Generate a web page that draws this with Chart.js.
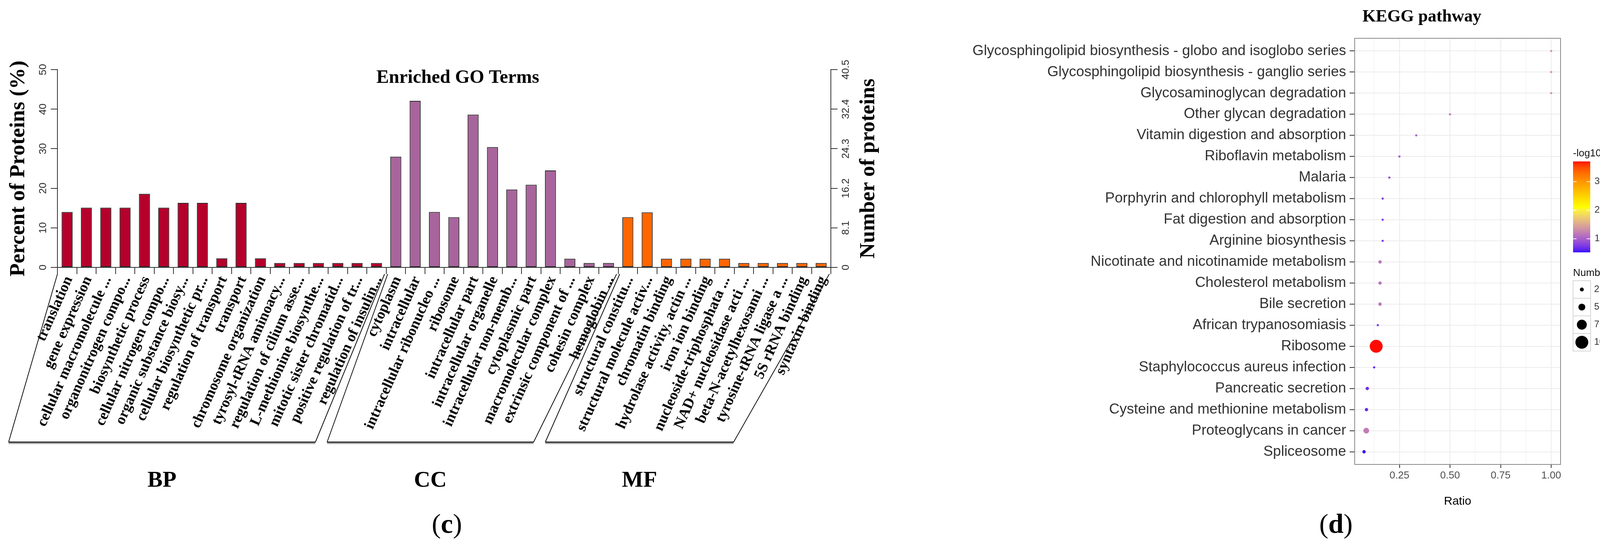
<!DOCTYPE html>
<html>
<head>
<meta charset="utf-8">
<script src="https://cdn.jsdelivr.net/npm/chart.js@4.4.0/dist/chart.umd.min.js"></script>
<style>
html, body { margin: 0; padding: 0; background: #fff; }
#wrap { position: relative; width: 4373px; height: 1412px; overflow: hidden; background: #fff; }
canvas { position: absolute; left: 0; top: 0; }
.panel-tag { position: absolute; font-family: "Liberation Serif", serif; font-size: 70px; color: #000;
             transform: translate(-50%, -50%); line-height: 1; }
</style>
</head>
<body>
<div id="wrap">
  <canvas id="goChart" width="4373" height="1412"></canvas>
  <canvas id="keggChart" width="4373" height="1412"></canvas>
  <div class="panel-tag" style="left:1144px;top:1340px">(<b>c</b>)</div>
  <div class="panel-tag" style="left:3420px;top:1340px">(<b>d</b>)</div>
</div>
<script>
// ========== 1. DATA ==========

// --- panel (c): enriched GO terms ---
const bpTerms = ['translation', 'gene expression', 'cellular macromolecule ...', 'organonitrogen compo...',
    'biosynthetic process', 'cellular nitrogen compo...', 'organic substance biosy...', 'cellular biosynthetic pr...',
    'regulation of transport', 'transport', 'chromosome organization', 'tyrosyl-tRNA aminoacy...',
    'regulation of cilium asse...', 'L-methionine biosynthe...', 'mitotic sister chromatid...',
    'positive regulation of tr...', 'regulation of insulin...'];
const bpPercent = [14.0, 15.1, 15.1, 15.1, 18.6, 15.1, 16.3, 16.3, 2.3, 16.3, 2.3, 1.1, 1.1, 1.1, 1.1, 1.1, 1.1];

const ccTerms = ['cytoplasm', 'intracellular', 'intracellular ribonucleo ...', 'ribosome', 'intracellular part',
    'intracellular organelle', 'intracellular non-memb...', 'cytoplasmic part', 'macromolecular complex',
    'extrinsic component of ...', 'cohesin complex', 'hemoglobin ...'];
const ccPercent = [28.0, 42.1, 14.0, 12.7, 38.6, 30.4, 19.7, 20.9, 24.5, 2.2, 1.1, 1.1];

const mfTerms = ['structural constitu...', 'structural molecule activ...', 'chromatin binding',
    'hydrolase activity, actin ...', 'iron ion binding', 'nucleoside-triphosphata ...', 'NAD+ nucleosidase acti ...',
    'beta-N-acetylhexosami ...', 'tyrosine-tRNA ligase a ...', '5S rRNA binding', 'syntaxin binding'];
const mfPercent = [12.7, 13.9, 2.2, 2.2, 2.2, 2.2, 1.1, 1.1, 1.1, 1.1, 1.1];

const groupNames = ['BP', 'CC', 'MF'];
const groupColors = ['#B4002A', '#A8649C', '#FF6600'];
const percentTicks = [0, 10, 20, 30, 40, 50];
const proteinTicks = [0, 8.1, 16.2, 24.3, 32.4, 40.5];
const proteinTickLabels = ['0', '8.1', '16.2', '24.3', '32.4', '40.5'];

// --- panel (d): KEGG pathway bubbles (top to bottom) ---
const pathways = ['Glycosphingolipid biosynthesis - globo and isoglobo series',
    'Glycosphingolipid biosynthesis - ganglio series', 'Glycosaminoglycan degradation', 'Other glycan degradation',
    'Vitamin digestion and absorption', 'Riboflavin metabolism', 'Malaria', 'Porphyrin and chlorophyll metabolism',
    'Fat digestion and absorption', 'Arginine biosynthesis', 'Nicotinate and nicotinamide metabolism',
    'Cholesterol metabolism', 'Bile secretion', 'African trypanosomiasis', 'Ribosome',
    'Staphylococcus aureus infection', 'Pancreatic secretion', 'Cysteine and methionine metabolism',
    'Proteoglycans in cancer', 'Spliceosome'];
const ratios   = [1.0, 1.0, 1.0, 0.5, 0.333, 0.25, 0.2, 0.167, 0.167, 0.167, 0.154, 0.154, 0.154, 0.143, 0.135,
    0.125, 0.091, 0.087, 0.086, 0.075];
const counts   = [1, 1, 1, 1, 1, 1, 1, 1, 1, 1, 2, 2, 2, 1, 10, 1, 2, 2, 4, 2];
const negLogP  = [1.4, 1.4, 1.4, 1.2, 1.05, 0.95, 0.85, 0.75, 0.75, 0.75, 1.15, 1.15, 1.15, 0.7, 3.7,
    0.62, 0.68, 0.66, 1.2, 0.56];

const ratioMajorTicks = [0.25, 0.5, 0.75, 1.0];
const ratioTickLabels = ['0.25', '0.50', '0.75', '1.00'];
const ratioMinorTicks = [0.125, 0.375, 0.625, 0.875];
const pvalLimits = [0.53, 3.71];
const pvalMid = 2.1;
const colorbarTicks = [1, 2, 3];
const countLimits = [1, 10];
const sizeBreaks = [2.5, 5.0, 7.5, 10.0];
const sizeBreakLabels = ['2.5', '5.0', '7.5', '10.0'];

// ========== 2. HELPERS ==========

const SERIF = '"Liberation Serif", "Times New Roman", serif';
const SANS = '"Liberation Sans", Arial, sans-serif';

function hexToRgb(h) {
    const n = parseInt(h.slice(1), 16);
    return [(n >> 16) & 255, (n >> 8) & 255, n & 255];
}
function toLinear(c) { c /= 255; return c <= 0.04045 ? c / 12.92 : Math.pow((c + 0.055) / 1.055, 2.4); }
function fromLinear(c) {
    const v = c <= 0.0031308 ? 12.92 * c : 1.055 * Math.pow(c, 1 / 2.4) - 0.055;
    return Math.round(Math.max(0, Math.min(1, v)) * 255);
}
function rgbToLab(rgb) {
    const [r, g, b] = rgb.map(toLinear);
    const X = (0.4124 * r + 0.3576 * g + 0.1805 * b) / 0.95047;
    const Y = (0.2126 * r + 0.7152 * g + 0.0722 * b);
    const Z = (0.0193 * r + 0.1192 * g + 0.9505 * b) / 1.08883;
    const f = t => t > 0.008856 ? Math.cbrt(t) : 7.787 * t + 16 / 116;
    const fx = f(X), fy = f(Y), fz = f(Z);
    return [116 * fy - 16, 500 * (fx - fy), 200 * (fy - fz)];
}
function labToRgb(lab) {
    const fy = (lab[0] + 16) / 116, fx = fy + lab[1] / 500, fz = fy - lab[2] / 200;
    const inv = t => (t * t * t > 0.008856) ? t * t * t : (t - 16 / 116) / 7.787;
    const X = inv(fx) * 0.95047, Y = inv(fy), Z = inv(fz) * 1.08883;
    return [
        fromLinear(3.2406 * X - 1.5372 * Y - 0.4986 * Z),
        fromLinear(-0.9689 * X + 1.8758 * Y + 0.0415 * Z),
        fromLinear(0.0557 * X - 0.2040 * Y + 1.0570 * Z)
    ];
}
const labStops = ['#0000FF', '#FFFF00', '#FF0000'].map(c => rgbToLab(hexToRgb(c)));

// diverging blue - yellow - red gradient, interpolated in Lab
function colorFor(v) {
    const dev = Math.max(pvalMid - pvalLimits[0], pvalLimits[1] - pvalMid);
    let t = 0.5 + (v - pvalMid) / (2 * dev);
    t = Math.max(0, Math.min(1, t));
    const seg = t < 0.5 ? 0 : 1;
    const f = t < 0.5 ? t * 2 : (t - 0.5) * 2;
    const a = labStops[seg], b = labStops[seg + 1];
    const rgb = labToRgb([0, 1, 2].map(k => a[k] + (b[k] - a[k]) * f));
    return 'rgb(' + rgb.join(',') + ')';
}

// radius grows linearly with the count (1 -> 1 unit, 10 -> 6 units)
const RADIUS_UNIT = 2.75;
function radiusFor(n) {
    return RADIUS_UNIT * (1 + 5 * (n - countLimits[0]) / (countLimits[1] - countLimits[0]));
}

function rotatedText(ctx, text, x, y, angle) {
    ctx.save();
    ctx.translate(x, y);
    ctx.rotate(angle);
    ctx.fillText(text, 0, 0);
    ctx.restore();
}

// ========== 3. PANEL (c) BAR CHART ==========

const goTerms = bpTerms.concat(ccTerms, mfTerms);
const goPercent = bpPercent.concat(ccPercent, mfPercent);
const groupSizes = [bpTerms.length, ccTerms.length, mfTerms.length];
const goColors = [];
groupSizes.forEach((n, gi) => { for (let i = 0; i < n; i++) goColors.push(groupColors[gi]); });

const LABEL_ANGLE = 66 * Math.PI / 180;
// bottom edge of the bracket row (left and right ends) and its height
const BRACKET_BOTTOM = {left: 22, right: 1884, y: 1131};

const goDecor = {
    id: 'goDecor',
    afterDraw(chart) {
        const {ctx, chartArea: area, scales} = chart;
        const xs = scales.x, ys = scales.y, ys2 = scales.y2;
        const midY = (area.top + area.bottom) / 2;
        ctx.save();
        ctx.fillStyle = '#000';
        ctx.textAlign = 'center';
        ctx.textBaseline = 'middle';

        ctx.font = 'bold 48px ' + SERIF;
        ctx.fillText('Enriched GO Terms', 1172, 200);

        ctx.font = 'bold 55px ' + SERIF;
        rotatedText(ctx, 'Percent of Proteins (%)', 48, midY, -Math.PI / 2);
        rotatedText(ctx, 'Number of proteins', 2224, midY, -Math.PI / 2);

        // tick labels parallel to the axes
        ctx.fillStyle = '#2b2b2b';
        ctx.font = '26px ' + SANS;
        percentTicks.forEach(v => rotatedText(ctx, String(v), area.left - 36, ys.getPixelForValue(v), -Math.PI / 2));
        proteinTicks.forEach((v, i) => rotatedText(ctx, proteinTickLabels[i], area.right + 39,
            ys2.getPixelForValue(v), -Math.PI / 2));

        // slanted category labels
        ctx.fillStyle = '#000';
        ctx.font = 'bold 38px ' + SERIF;
        ctx.textAlign = 'right';
        goTerms.forEach((t, i) => {
            rotatedText(ctx, t, xs.getPixelForValue(i) + 5, area.bottom + 25, -LABEL_ANGLE);
        });

        // group brackets: top corners on the axis ticks, bottom corners on the bracket row
        const slot = (area.right - area.left) / goTerms.length;
        const topY = area.bottom + 17, botY = BRACKET_BOTTOM.y;
        const squeeze = (BRACKET_BOTTOM.right - BRACKET_BOTTOM.left) / (area.right - area.left);
        const bottomOf = px => BRACKET_BOTTOM.left + (px - area.left) * squeeze;
        let start = 0;
        groupSizes.forEach((n, gi) => {
            const end = start + n;
            const tl = area.left + start * slot + (gi === 0 ? 0 : 4);
            const tr = area.left + end * slot - 4;
            const bl = bottomOf(area.left + start * slot) + (gi === 0 ? 0 : 24);
            const br = bottomOf(area.left + end * slot) - 6;
            ctx.strokeStyle = '#111';
            ctx.lineWidth = 2;
            ctx.beginPath();
            ctx.moveTo(tl, topY);
            ctx.lineTo(bl, botY);
            ctx.moveTo(br, botY);
            ctx.lineTo(tr, topY);
            ctx.stroke();
            // bottom edge with a soft shadow
            ctx.strokeStyle = '#b0b0b0';
            ctx.lineWidth = 4;
            ctx.beginPath();
            ctx.moveTo(bl, botY + 3);
            ctx.lineTo(br, botY + 3);
            ctx.stroke();
            ctx.strokeStyle = '#222';
            ctx.lineWidth = 3;
            ctx.beginPath();
            ctx.moveTo(bl, botY);
            ctx.lineTo(br, botY);
            ctx.stroke();

            ctx.fillStyle = '#000';
            ctx.font = 'bold 58px ' + SERIF;
            ctx.textAlign = 'center';
            ctx.fillText(groupNames[gi], (bl + br) / 2, 1230);
            start = end;
        });
        ctx.restore();
    }
};

new Chart(document.getElementById('goChart'), {
    type: 'bar',
    data: {
        labels: goTerms,
        datasets: [{
            data: goPercent,
            backgroundColor: goColors,
            borderColor: '#2a2a2a',
            borderWidth: 2,
            borderSkipped: false,
            barPercentage: 0.57,
            categoryPercentage: 1.0
        }]
    },
    options: {
        responsive: false,
        animation: false,
        devicePixelRatio: 1,
        events: [],
        layout: {padding: {left: 0, top: 178, right: 4373 - 2266, bottom: 0}},
        plugins: {legend: {display: false}, tooltip: {enabled: false}},
        scales: {
            x: {
                type: 'category',
                grid: {display: true, offset: true, drawOnChartArea: false, drawTicks: true,
                    tickLength: 17, color: '#333', lineWidth: 2},
                border: {display: true, color: '#333', width: 2},
                ticks: {display: false},
                afterFit(scale) { scale.height = 1412 - 684; }
            },
            y: {
                position: 'left',
                min: 0, max: 50,
                afterBuildTicks(scale) { scale.ticks = percentTicks.map(v => ({value: v})); },
                grid: {drawOnChartArea: false, drawTicks: true, tickLength: 17, color: '#333', lineWidth: 2},
                border: {display: true, color: '#333', width: 2},
                ticks: {display: false},
                afterFit(scale) { scale.width = 147; }
            },
            y2: {
                position: 'right',
                min: 0, max: 40.5,
                afterBuildTicks(scale) { scale.ticks = proteinTicks.map(v => ({value: v})); },
                grid: {drawOnChartArea: false, drawTicks: true, tickLength: 17, color: '#333', lineWidth: 2},
                border: {display: true, color: '#333', width: 2},
                ticks: {display: false},
                afterFit(scale) { scale.width = 139; }
            }
        }
    },
    plugins: [goDecor]
});

// ========== 4. PANEL (d) BUBBLE CHART ==========

const ratioMin = Math.min(...ratios), ratioMax = Math.max(...ratios);
const ratioPad = 0.05 * (ratioMax - ratioMin);

const keggDecor = {
    id: 'keggDecor',
    afterDraw(chart) {
        const {ctx, chartArea: area} = chart;
        ctx.save();
        // panel border
        ctx.strokeStyle = '#8a8a8a';
        ctx.lineWidth = 2;
        ctx.strokeRect(area.left, area.top, area.right - area.left, area.bottom - area.top);

        ctx.fillStyle = '#000';
        ctx.textAlign = 'center';
        ctx.textBaseline = 'middle';
        ctx.font = 'bold 44px ' + SERIF;
        ctx.fillText('KEGG pathway', 3640, 44);

        ctx.font = '30px ' + SANS;
        ctx.fillText('Ratio', (area.left + area.right) / 2, 1283);

        // colour bar legend
        const cb = {x: area.right + 32, y: 413, w: 44, h: 232};
        const span = pvalLimits[1] - pvalLimits[0];
        ctx.textAlign = 'left';
        ctx.font = '26px ' + SANS;
        ctx.fillStyle = '#111';
        ctx.fillText('-log10(Pvalue)', cb.x, 393);
        for (let k = 0; k < cb.h; k++) {
            ctx.fillStyle = colorFor(pvalLimits[1] - (k + 0.5) / cb.h * span);
            ctx.fillRect(cb.x, cb.y + k, cb.w, 1.5);
        }
        ctx.font = '24px ' + SANS;
        colorbarTicks.forEach(v => {
            const py = cb.y + (pvalLimits[1] - v) / span * cb.h;
            ctx.strokeStyle = 'rgba(255,255,255,0.9)';
            ctx.lineWidth = 2;
            ctx.beginPath();
            ctx.moveTo(cb.x, py); ctx.lineTo(cb.x + 9, py);
            ctx.moveTo(cb.x + cb.w - 9, py); ctx.lineTo(cb.x + cb.w, py);
            ctx.stroke();
            ctx.fillStyle = '#333';
            ctx.fillText(String(v), cb.x + cb.w + 11, py);
        });

        // size legend
        ctx.fillStyle = '#111';
        ctx.font = '26px ' + SANS;
        ctx.fillText('Number', cb.x, 699);
        const key = 45, keyTop = 718;
        sizeBreaks.forEach((v, i) => {
            const ky = keyTop + i * key;
            ctx.fillStyle = '#fff';
            ctx.fillRect(cb.x, ky, key, key);
            ctx.strokeStyle = '#d6d6d6';
            ctx.lineWidth = 2;
            ctx.strokeRect(cb.x, ky, key, key);
            ctx.fillStyle = '#000';
            ctx.beginPath();
            ctx.arc(cb.x + key / 2, ky + key / 2, radiusFor(v), 0, Math.PI * 2);
            ctx.fill();
            ctx.fillStyle = '#333';
            ctx.font = '24px ' + SANS;
            ctx.fillText(sizeBreakLabels[i], cb.x + key + 9, ky + key / 2);
        });
        ctx.restore();
    }
};

const isMinor = v => ratioMinorTicks.some(m => Math.abs(m - v) < 1e-6);

new Chart(document.getElementById('keggChart'), {
    type: 'bubble',
    data: {
        datasets: [{
            data: pathways.map((p, i) => ({x: ratios[i], y: i + 1, r: radiusFor(counts[i])})),
            backgroundColor: negLogP.map(colorFor),
            borderWidth: 0,
            hoverRadius: 0,
            clip: false
        }]
    },
    options: {
        responsive: false,
        animation: false,
        devicePixelRatio: 1,
        events: [],
        layout: {padding: {left: 0, top: 98, right: 4373 - 3995, bottom: 0}},
        plugins: {legend: {display: false}, tooltip: {enabled: false}},
        scales: {
            x: {
                type: 'linear',
                min: ratioMin - ratioPad,
                max: ratioMax + ratioPad,
                afterBuildTicks(scale) {
                    scale.ticks = ratioMinorTicks.concat(ratioMajorTicks).sort((a, b) => a - b)
                        .map(v => ({value: v}));
                },
                grid: {
                    color: '#ececec',
                    lineWidth: c => (c.tick && isMinor(c.tick.value)) ? 1 : 2,
                    tickColor: c => (c.tick && isMinor(c.tick.value)) ? 'rgba(0,0,0,0)' : '#333',
                    tickLength: 9, drawTicks: true
                },
                border: {display: false},
                ticks: {
                    autoSkip: false, maxRotation: 0, minRotation: 0, padding: 4,
                    color: '#4d4d4d', font: {family: SANS, size: 26},
                    callback(v) {
                        const i = ratioMajorTicks.findIndex(m => Math.abs(m - v) < 1e-6);
                        return i >= 0 ? ratioTickLabels[i] : '';
                    }
                },
                afterFit(scale) { scale.height = 1412 - 1188; }
            },
            y: {
                type: 'linear',
                reverse: true,
                min: 0.4,
                max: pathways.length + 0.6,
                afterBuildTicks(scale) { scale.ticks = pathways.map((p, i) => ({value: i + 1})); },
                grid: {color: '#ececec', lineWidth: 2, tickColor: '#333', tickLength: 13, drawTicks: true},
                border: {display: false},
                ticks: {
                    autoSkip: false, padding: 9,
                    color: '#333', font: {family: SANS, size: 37},
                    callback(v) { return pathways[Math.round(v) - 1] || ''; }
                },
                afterFit(scale) { scale.width = 3468; }
            }
        }
    },
    plugins: [keggDecor]
});
</script>
</body>
</html>
